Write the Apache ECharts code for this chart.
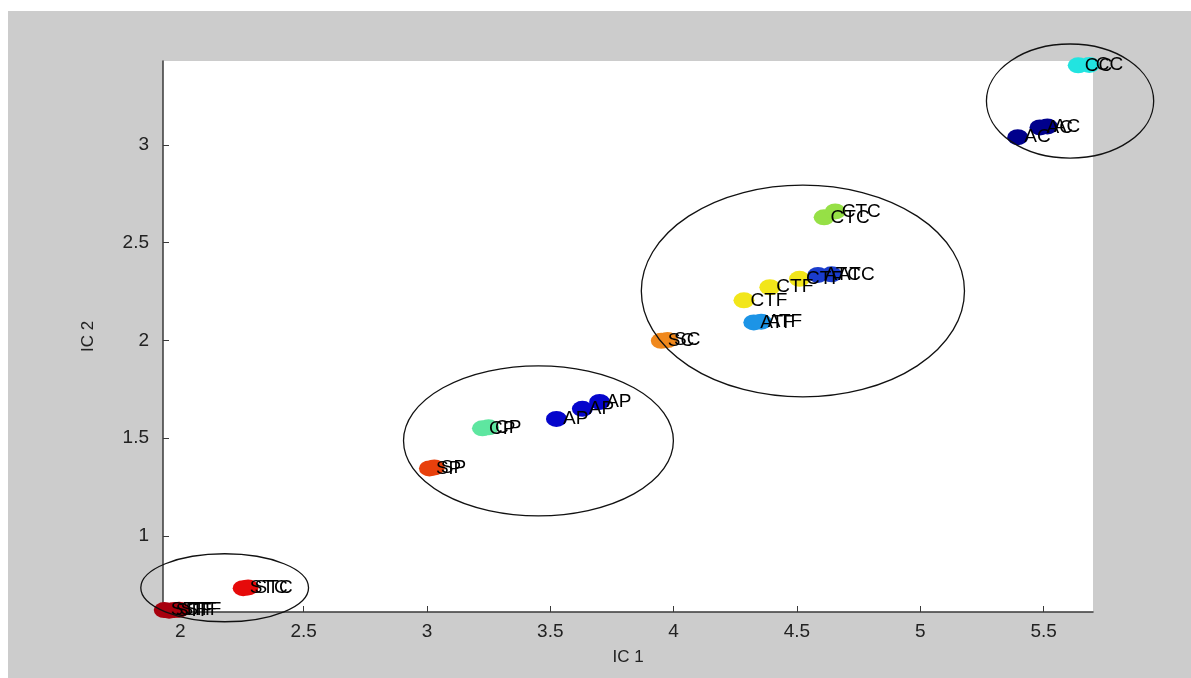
<!DOCTYPE html>
<html>
<head>
<meta charset="utf-8">
<script src="https://cdn.jsdelivr.net/npm/echarts@6/dist/echarts.min.js"></script>
<style>
html,body{margin:0;padding:0;background:#ffffff;width:1191px;height:678px;overflow:hidden;}
#c{position:absolute;left:8px;top:11px;width:1183px;height:667px;}
</style>
</head>
<body>
<div id="c"></div>
<script>
// ---- data ----
const xAxisName = 'IC 1';
const yAxisName = 'IC 2';
const xRange = [1.93, 5.70];
const yRange = [0.61, 3.43];

const groupNames  = ['STF', 'STC', 'SP', 'CP', 'AP', 'SC', 'ATF', 'CTF', 'ATC', 'CTC', 'AC', 'CC'];
const groupColors = ['#a8000e', '#e60a0a', '#e8400c', '#5ee6a0', '#0505cc', '#f0881c', '#1c94e6', '#f2e61a', '#1a3ccc', '#96e046', '#00008c', '#22e4e0'];

const STF = [[1.915, 0.624], [1.935, 0.620], [1.955, 0.617], [1.975, 0.620], [1.995, 0.622]];
const STC = [[2.255, 0.732], [2.275, 0.736]];
const SP  = [[3.010, 1.345], [3.030, 1.350]];
const CP  = [[3.225, 1.550], [3.250, 1.555]];
const AP  = [[3.525, 1.598], [3.630, 1.650], [3.700, 1.685]];
const SC  = [[3.950, 1.998], [3.975, 2.002]];
const ATF = [[4.325, 2.092], [4.355, 2.096]];
const CTF = [[4.285, 2.205], [4.390, 2.272], [4.510, 2.315]];
const ATC = [[4.585, 2.335], [4.640, 2.338]];
const CTC = [[4.610, 2.630], [4.655, 2.660]];
const AC  = [[5.395, 3.040], [5.485, 3.090], [5.515, 3.095]];
const CC  = [[5.640, 3.408], [5.685, 3.410]];
const groupData = [STF, STC, SP, CP, AP, SC, ATF, CTF, ATC, CTC, AC, CC];

// ellipses drawn round the clusters: centre x, centre y, radius x, radius y (data units)
const ellipseCx = [2.180, 3.452, 4.524, 5.607];
const ellipseCy = [0.734, 1.486, 2.253, 3.225];
const ellipseRx = [0.340, 0.547, 0.655, 0.339];
const ellipseRy = [0.174, 0.384, 0.542, 0.292];

// ---- chart ----
const chart = echarts.init(document.getElementById('c'));
const FONT = 'Liberation Sans, Arial, sans-serif';

const scatterSeries = groupNames.map((name, i) => ({
  type: 'scatter',
  name: name,
  data: groupData[i],
  symbol: 'circle',
  symbolSize: [21, 16],
  itemStyle: { color: groupColors[i], opacity: 1 },
  label: {
    show: true,
    position: 'right',
    distance: -4,
    formatter: name,
    color: '#000000',
    fontFamily: FONT,
    fontSize: 19
  },
  emphasis: { disabled: true },
  z: 3
}));

const ellipseData = ellipseCx.map((cx, i) => [cx, ellipseCy[i], ellipseRx[i], ellipseRy[i]]);

const ellipseSeries = {
  type: 'custom',
  data: ellipseData,
  clip: false,
  silent: true,
  z: 4,
  encode: { x: 0, y: 1 },
  renderItem: function (params, api) {
    const cx = api.value(0), cy = api.value(1), rx = api.value(2), ry = api.value(3);
    const p0 = api.coord([cx - rx, cy + ry]);
    const p1 = api.coord([cx + rx, cy - ry]);
    return {
      type: 'path',
      shape: {
        pathData: 'M0 50 A50 50 0 1 0 100 50 A50 50 0 1 0 0 50 Z',
        layout: 'cover',
        x: p0[0], y: p0[1], width: p1[0] - p0[0], height: p1[1] - p0[1]
      },
      style: { fill: 'none', stroke: '#111111', lineWidth: 1.3 }
    };
  }
};

chart.setOption({
  backgroundColor: '#cccccc',
  animation: false,
  grid: {
    left: 155, top: 50, right: 98, bottom: 66,
    show: true, backgroundColor: '#ffffff', borderWidth: 0,
    containLabel: false
  },
  xAxis: {
    type: 'value',
    min: xRange[0], max: xRange[1],
    splitNumber: 8,
    name: xAxisName,
    nameLocation: 'middle',
    nameGap: 37,
    nameTextStyle: { color: '#222', fontSize: 17, fontFamily: FONT },
    axisLine: { show: true, onZero: false, lineStyle: { color: '#3a3a3a', width: 1.5 } },
    axisTick: { show: true, inside: true, length: 6, lineStyle: { color: '#3a3a3a' } },
    axisLabel: { showMinLabel: false, showMaxLabel: false, margin: 10, color: '#222', fontSize: 19, fontFamily: FONT },
    splitLine: { show: false }
  },
  yAxis: {
    type: 'value',
    min: yRange[0], max: yRange[1],
    splitNumber: 6,
    name: yAxisName,
    nameLocation: 'middle',
    nameGap: 66,
    nameTextStyle: { color: '#222', fontSize: 17, fontFamily: FONT },
    axisLine: { show: true, onZero: false, lineStyle: { color: '#3a3a3a', width: 1.5 } },
    axisTick: { show: true, inside: true, length: 6, lineStyle: { color: '#3a3a3a' } },
    axisLabel: { showMinLabel: false, showMaxLabel: false, margin: 14, color: '#222', fontSize: 19, fontFamily: FONT },
    splitLine: { show: false }
  },
  series: scatterSeries.concat([ellipseSeries])
});
</script>
</body>
</html>
